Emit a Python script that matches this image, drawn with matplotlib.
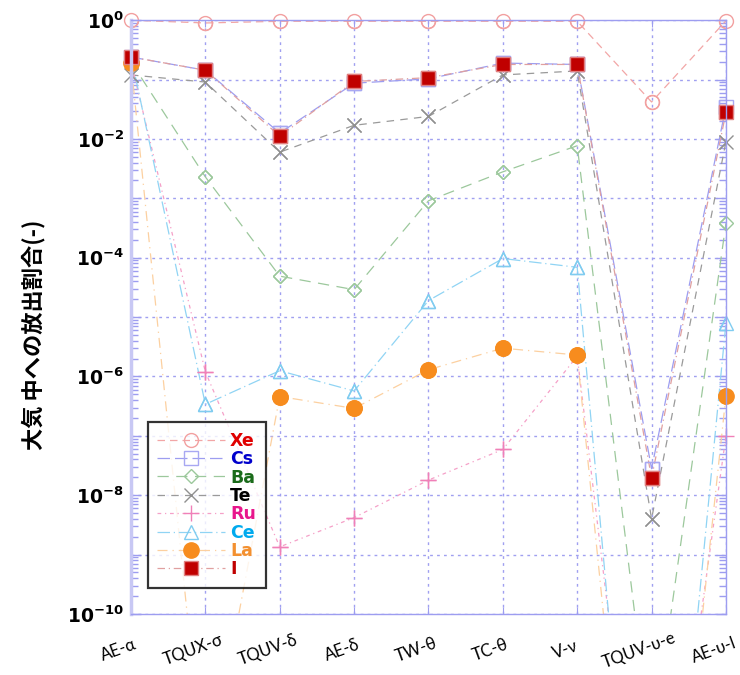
import matplotlib
matplotlib.use('Agg')
import matplotlib.pyplot as plt
import matplotlib.transforms as mtransforms
import numpy as np
from matplotlib.ticker import LogLocator, NullFormatter, FixedLocator

plt.rcParams['font.family'] = ['DejaVu Sans', 'Noto Sans CJK JP']
plt.rcParams['mathtext.default'] = 'bf'

# シナリオ名
cases = ['AE-α', 'TQUX-σ', 'TQUV-δ', 'AE-δ', 'TW-θ', 'TC-θ', 'V-ν', 'TQUV-υ-e', 'AE-υ-l']

# 各核種の放出割合
xe = [1.0, 0.9, 0.96, 0.96, 0.96, 0.96, 0.96, 0.042, 0.98]
cs = [0.24, 0.144, 0.0126, 0.087, 0.103, 0.19, 0.18, 2.8e-8, 0.035]
ba = [0.2, 2.3e-3, 4.9e-5, 2.9e-5, 9.1e-4, 2.8e-3, 7.7e-3, 5e-13, 3.8e-4]
te = [0.12, 0.091, 6.0e-3, 0.017, 0.024, 0.12, 0.14, 4e-9, 9e-3]
ru = [0.2, 1.2e-6, 1.35e-9, 4.2e-9, 1.8e-8, 5.9e-8, 2.2e-6, 1e-16, 1.0e-7]
ce = [0.25, 3.4e-7, 1.25e-6, 5.7e-7, 1.9e-5, 9.7e-5, 6.9e-5, 1e-18, 7.9e-6]
la = [0.19, 1e-13, 4.6e-7, 2.9e-7, 1.3e-6, 3.0e-6, 2.3e-6, 1e-18, 4.7e-7]
iodine = [0.24, 0.144, 0.0112, 0.093, 0.108, 0.18, 0.18, 1.95e-8, 0.028]

x = np.arange(len(cases))

fig = plt.figure(figsize=(7.4, 6.75), dpi=100)
ax = fig.add_axes([0.177, 0.0904, 0.804, 0.8796])

# (データ, ラベル, 線色, 線種, マーカー, マーカーサイズ, 塗り, 縁色, 文字色)
series = [
    (xe, 'Xe', '#f2a6a6', (0, (6, 4)), 'o', 10, 'none', '#f2a0a0', '#e00000'),
    (cs, 'Cs', '#9d9df0', (0, (10, 4)), 's', 10, 'none', '#a8a8f2', '#0000cc'),
    (ba, 'Ba', '#9cc89c', (0, (9, 6)), 'D', 7, 'none', '#9cc89c', '#1a6b1a'),
    (te, 'Te', '#9a9a9a', (0, (6, 5)), 'x', 10, 'none', '#909090', '#000000'),
    (ru, 'Ru', '#f5a0c8', (0, (3, 3, 1, 3)), '+', 11, 'none', '#f080b8', '#e8168c'),
    (ce, 'Ce', '#90d4f4', (0, (10, 3, 1, 3)), '^', 10, 'none', '#80ccf0', '#00aaee'),
    (la, 'La', '#fcd0a0', (0, (8, 4, 1, 4)), 'o', 11, '#f78c1e', '#f78c1e', '#f39030'),
    (iodine, 'I', '#e0a0a0', (0, (6, 3, 1, 3)), 's', 10, '#c00000', '#e08080', '#c00000'),
]

for vals, lab, lc, ls, mk, ms, mfc, mec, _ in series:
    ax.plot(x, vals, color=lc, linestyle=ls, linewidth=0.9, marker=mk,
            markersize=ms, markerfacecolor=mfc, markeredgecolor=mec,
            markeredgewidth=1.0, label=lab)

ax.set_yscale('log')
ax.set_ylim(1e-10, 1.0)
ax.set_xlim(0, len(cases) - 1)

# 端のマーカーが切れないように、範囲内の点だけマーカーを描き直す
for vals, lab, lc, ls, mk, ms, mfc, mec, _ in series:
    v = np.array(vals)
    ok = v >= 1e-10
    ax.plot(x[ok], v[ok], linestyle='none', marker=mk, markersize=ms,
            markerfacecolor=mfc, markeredgecolor=mec, markeredgewidth=1.0,
            clip_on=False)

# x軸ラベルは少し左にずらして斜めに配置
ax.set_xticks(x)
ax.set_xticklabels([])
trans = mtransforms.blended_transform_factory(ax.transData, ax.transAxes) + \
    mtransforms.ScaledTranslation(-0.12, -0.36, fig.dpi_scale_trans)
for i, name in enumerate(cases):
    ax.text(i, 0, name, transform=trans, rotation=20, ha='center', va='center',
            fontsize=12, family=['Lato', 'DejaVu Sans'], clip_on=False)

ax.yaxis.set_major_locator(FixedLocator([10.0 ** k for k in range(-10, 1)]))
ax.set_yticks([10.0 ** k for k in range(-10, 1)])
ax.set_yticklabels(['$10^{%d}$' % k if k % 2 == 0 else '' for k in range(-10, 1)],
                   fontsize=13.5)
ax.yaxis.set_minor_locator(LogLocator(base=10, subs=np.arange(2, 10), numticks=20))
ax.yaxis.set_minor_formatter(NullFormatter())

axis_col = '#9d9df0'
ax.tick_params(axis='both', which='both', direction='in', color=axis_col,
               top=True, right=True)
ax.tick_params(axis='y', which='major', length=7, width=1, pad=5)
ax.tick_params(axis='y', which='minor', length=5, width=1)
ax.tick_params(axis='x', which='major', length=5)
for side in ['top', 'right', 'bottom']:
    ax.spines[side].set_color(axis_col)
    ax.spines[side].set_linewidth(1.0)
ax.spines['left'].set_color('#c8c8f4')
ax.spines['left'].set_linewidth(2.5)

ax.grid(True, which='major', color='#a0a0f0', linestyle=(0, (2, 3)), linewidth=1.0)

ax.set_ylabel('大気 中への放出割合(-)', fontsize=16, fontweight='bold',
              family=['Noto Sans CJK JP', 'DejaVu Sans'])
ax.yaxis.set_label_coords(-0.143, 0.47)

leg = ax.legend(loc='lower left', bbox_to_anchor=(0.028, 0.044), frameon=True,
                fancybox=False, edgecolor='black', handlelength=3.9,
                handletextpad=0.3, borderaxespad=0, borderpad=0.55,
                labelspacing=0.02, prop={'weight': 'bold', 'size': 12.5})
leg.get_frame().set_linewidth(1.6)
for txt, s in zip(leg.get_texts(), series):
    txt.set_color(s[8])

fig.savefig('out.png', dpi=100)
